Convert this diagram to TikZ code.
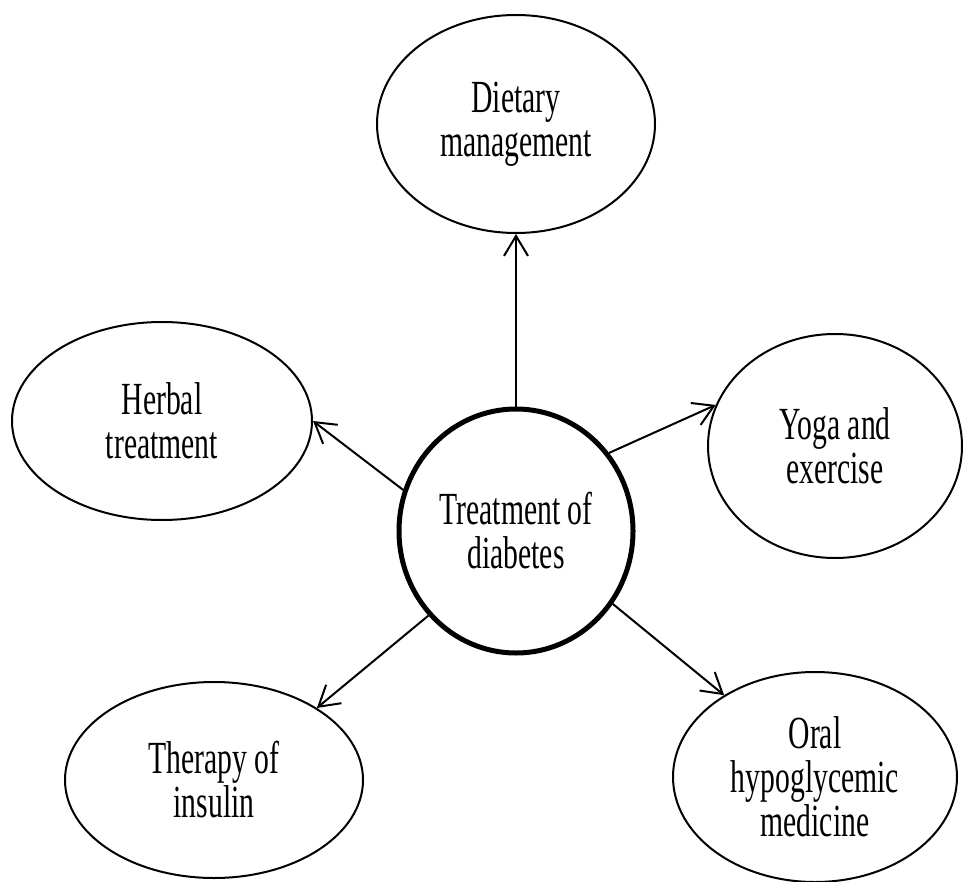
\documentclass[tikz,border=0pt]{standalone}
\usepackage{fontspec}
\setmainfont[FakeStretch=0.645]{Liberation Serif}
\usetikzlibrary{shapes.geometric,arrows.meta}
\begin{document}
\begin{tikzpicture}[x=1pt,y=-1pt,
  bubble/.style={ellipse,draw=black,line width=2pt,inner sep=0pt,align=center,
    font={\fontsize{46}{44}\selectfont}},
  hub/.style={bubble,line width=5pt},
  arr/.style={line width=2pt,-{Straight Barb[length=20pt,width=24pt,line width=2pt]}}]
\useasboundingbox (0,0) rectangle (963,882);
\node[hub,minimum width=234pt,minimum height=244pt] (c) at (516,531) {Treatment of\\diabetes};
\node[bubble,minimum width=278pt,minimum height=218pt] (d) at (516,124) {Dietary\\management};
\node[bubble,minimum width=300pt,minimum height=198pt] (h) at (162,421) {Herbal\\treatment};
\node[bubble,minimum width=254pt,minimum height=224pt] (y) at (835,446) {Yoga and\\exercise};
\node[bubble,minimum width=298pt,minimum height=196pt] (i) at (214,780) {Therapy of\\insulin};
\node[bubble,minimum width=284pt,minimum height=210pt] (o) at (815,777) {Oral\\hypoglycemic\\medicine};
\draw[arr] (c.north) -- (d.south);
\draw[arr] (c.160) -- (h.east);
\draw[arr] (c.40) -- (y.161);
\draw[arr] (c.224) -- (i.35);
\draw[arr] (c.323) -- (o.138);
\end{tikzpicture}
\end{document}
